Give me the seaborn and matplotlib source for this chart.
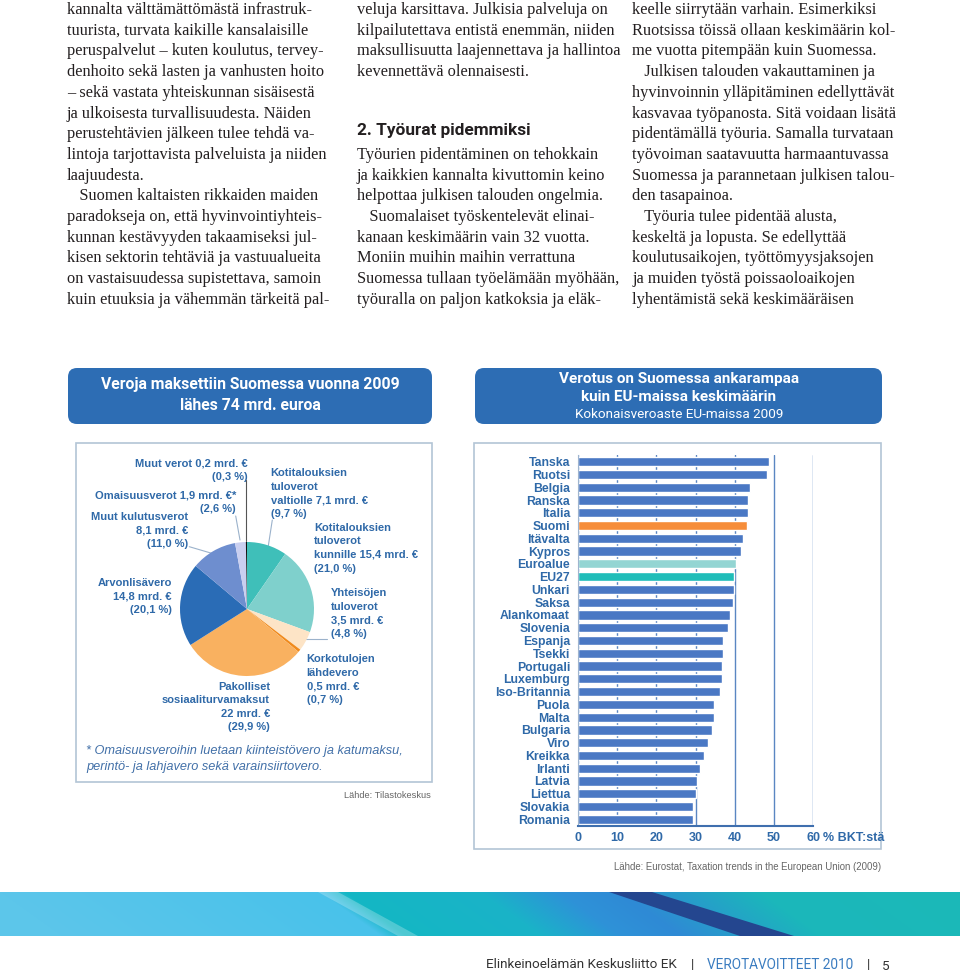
import numpy as np
import pandas as pd
import matplotlib
matplotlib.use("Agg")
import matplotlib.pyplot as plt
import seaborn as sns
from matplotlib.patches import FancyBboxPatch, Rectangle, Polygon
from matplotlib.colors import to_rgb

# =========================
# DATA
# =========================

# verotulot 2009, mrd. euroa (myötäpäivään klo 12:sta alkaen)
pie_values = [7.1, 15.4, 3.5, 0.5, 22.0, 14.8, 8.1, 1.9, 0.2]
pie_colors = ["#3fbfb9", "#7fd0cc", "#fde4c6", "#f08a1c", "#f9b160",
              "#2a6cb6", "#6e8ecf", "#c9cff0", "#111111"]
pie_labels = [
    ["Kotitalouksien", "tuloverot", "valtiolle 7,1 mrd. €", "(9,7 %)"],
    ["Kotitalouksien", "tuloverot", "kunnille 15,4 mrd. €", "(21,0 %)"],
    ["Yhteisöjen", "tuloverot", "3,5 mrd. €", "(4,8 %)"],
    ["Korkotulojen", "lähdevero", "0,5 mrd. €", "(0,7 %)"],
    ["Pakolliset", "sosiaaliturvamaksut", "22 mrd. €", "(29,9 %)"],
    ["Arvonlisävero", "14,8 mrd. €", "(20,1 %)"],
    ["Muut kulutusverot", "8,1 mrd. €", "(11,0 %)"],
    ["Omaisuusverot 1,9 mrd. €*", "(2,6 %)"],
    ["Muut verot 0,2 mrd. €", "(0,3 %)"],
]

# kokonaisveroaste, % BKT:stä
countries = ["Tanska", "Ruotsi", "Belgia", "Ranska", "Italia", "Suomi",
             "Itävalta", "Kypros", "Euroalue", "EU27", "Unkari", "Saksa",
             "Alankomaat", "Slovenia", "Espanja", "Tsekki", "Portugali",
             "Luxemburg", "Iso-Britannia", "Puola", "Malta", "Bulgaria",
             "Viro", "Kreikka", "Irlanti", "Latvia", "Liettua", "Slovakia",
             "Romania"]
rates = [48.7, 48.3, 44.0, 43.3, 43.3, 43.0, 42.1, 41.6, 40.4, 39.9, 39.9,
         39.5, 38.9, 38.3, 37.1, 37.0, 36.8, 36.7, 36.3, 34.8, 34.7, 34.2,
         33.1, 32.1, 31.1, 30.4, 30.0, 29.4, 29.4]
x_ticks = [0, 10, 20, 30, 40, 50, 60]

col1 = [
    "kannalta välttämättömästä infrastruk-",
    "tuurista, turvata kaikille kansalaisille",
    "peruspalvelut – kuten koulutus, tervey-",
    "denhoito sekä lasten ja vanhusten hoito",
    "– sekä vastata yhteiskunnan sisäisestä",
    "ja ulkoisesta turvallisuudesta. Näiden",
    "perustehtävien jälkeen tulee tehdä va-",
    "lintoja tarjottavista palveluista ja niiden",
    "laajuudesta.",
    "   Suomen kaltaisten rikkaiden maiden",
    "paradokseja on, että hyvinvointiyhteis-",
    "kunnan kestävyyden takaamiseksi jul-",
    "kisen sektorin tehtäviä ja vastuualueita",
    "on vastaisuudessa supistettava, samoin",
    "kuin etuuksia ja vähemmän tärkeitä pal-",
]
col2 = [
    "veluja karsittava. Julkisia palveluja on",
    "kilpailutettava entistä enemmän, niiden",
    "maksullisuutta laajennettava ja hallintoa",
    "kevennettävä olennaisesti.",
    "",
    "",
    "",
    "Työurien pidentäminen on tehokkain",
    "ja kaikkien kannalta kivuttomin keino",
    "helpottaa julkisen talouden ongelmia.",
    "   Suomalaiset työskentelevät elinai-",
    "kanaan keskimäärin vain 32 vuotta.",
    "Moniin muihin maihin verrattuna",
    "Suomessa tullaan työelämään myöhään,",
    "työuralla on paljon katkoksia ja eläk-",
]
col3 = [
    "keelle siirrytään varhain. Esimerkiksi",
    "Ruotsissa töissä ollaan keskimäärin kol-",
    "me vuotta pitempään kuin Suomessa.",
    "   Julkisen talouden vakauttaminen ja",
    "hyvinvoinnin ylläpitäminen edellyttävät",
    "kasvavaa työpanosta. Sitä voidaan lisätä",
    "pidentämällä työuria. Samalla turvataan",
    "työvoiman saatavuutta harmaantuvassa",
    "Suomessa ja parannetaan julkisen talou-",
    "den tasapainoa.",
    "   Työuria tulee pidentää alusta,",
    "keskeltä ja lopusta. Se edellyttää",
    "koulutusaikojen, työttömyysjaksojen",
    "ja muiden työstä poissaoloaikojen",
    "lyhentämistä sekä keskimääräisen",
]

# =========================
# STYLE
# =========================

sns.set_style("white")
plt.rcParams["font.family"] = ["Liberation Sans", "DejaVu Sans"]

BLUE_TXT = "#2f69a8"
BODY = "#231f20"
W, H = 960, 976

fig = plt.figure(figsize=(9.6, 9.76), dpi=100)

# whole page in pixel coordinates
page = fig.add_axes([0, 0, 1, 1], zorder=0)
page.axis("off")

# footer stripe
stops_x = [0, 320, 345, 480, 560, 620, 760, 960]
stops_c = ["#5cc6ea", "#49c2ea", "#14b7c4", "#1ab3c8", "#2e92d8",
           "#2f8ad5", "#1bb7bb", "#1cb9b8"]
rgb = np.array([to_rgb(c) for c in stops_c])
img = np.zeros((44, W, 3))
for r in range(44):
    xs = np.arange(W) - r * 1.4
    for ch in range(3):
        img[r, :, ch] = np.interp(xs, stops_x, rgb[:, ch])
page.imshow(img, extent=(0, W, 936, 892), aspect="auto", zorder=0)
page.add_patch(Polygon([(318, 892), (338, 892), (418, 936), (398, 936)],
                       closed=True, fc="white", alpha=0.25, ec="none"))
page.add_patch(Polygon([(609, 892), (652, 892), (794, 936), (740, 936)],
                       closed=True, fc="#24468f", ec="none"))
page.set_xlim(0, W)
page.set_ylim(H, 0)

# =========================
# BODY TEXT
# =========================

for col_x, lines in [(67, col1), (357, col2), (632, col3)]:
    for i, line in enumerate(lines):
        if line:
            page.text(col_x, 10 + 20.7 * i, line, family="Liberation Serif",
                      fontsize=11.8, color=BODY, va="center", ha="left")

page.text(357, 131, "2. Työurat pidemmiksi", family="Roboto",
          fontweight="bold", fontsize=12.4, color=BODY, va="center")

# =========================
# TITLE BOXES
# =========================

for x0, w in [(68, 364), (475, 407)]:
    page.add_patch(FancyBboxPatch((x0, 368), w, 56,
                                  boxstyle="round,pad=0,rounding_size=9",
                                  fc="#2d6db4", ec="none"))

page.text(250, 384, "Veroja maksettiin Suomessa vuonna 2009", family="Roboto",
          fontweight="bold", fontsize=11.3, color="white", ha="center", va="center")
page.text(250, 405, "lähes 74 mrd. euroa", family="Roboto",
          fontweight="bold", fontsize=11.3, color="white", ha="center", va="center")
page.text(679, 379, "Verotus on Suomessa ankarampaa", family="Roboto",
          fontweight="bold", fontsize=11, color="white", ha="center", va="center")
page.text(679, 397, "kuin EU-maissa keskimäärin", family="Roboto",
          fontweight="bold", fontsize=11, color="white", ha="center", va="center")
page.text(679, 415, "Kokonaisveroaste EU-maissa 2009", family="Roboto",
          fontsize=9.7, color="white", ha="center", va="center")

# chart frames
page.add_patch(Rectangle((76, 443), 355.7, 338.7, fill=False, ec="#b3c5d5", lw=1.2))
page.add_patch(Rectangle((474, 443), 407, 406, fill=False, ec="#b3c5d5", lw=1.2))

# =========================
# PIE
# =========================

cx, cy, rad, half = 247, 609, 67, 70
ax_pie = fig.add_axes([(cx - half) / W, 1 - (cy + half) / H, 2 * half / W, 2 * half / H],
                      zorder=2)
ax_pie.pie(pie_values, colors=pie_colors, startangle=90, counterclock=False,
           wedgeprops={"linewidth": 0})
ax_pie.set_xlim(-half / rad, half / rad)
ax_pie.set_ylim(-half / rad, half / rad)
ax_pie.patch.set_alpha(0)

label_pos = [(270.7, 473.3, "left"), (314.3, 527.7, "left"), (330.7, 593.3, "left"),
             (306.7, 659.0, "left"), (270.0, 686.7, "right"), (172.0, 583.0, "right"),
             (188.0, 517.0, "right"), (236.0, 495.0, "right"), (248.0, 463.0, "right")]
for lines, (lx, ly, ha) in zip(pie_labels, label_pos):
    for j, line in enumerate(lines):
        page.text(lx, ly + 13.6 * j, line, fontsize=8, fontweight="bold",
                  color=BLUE_TXT, ha=ha, va="center")

leaders = [[(245.7, 480), (245.7, 541)], [(235.7, 516), (240, 540)],
           [(189.3, 546.7), (211.7, 553.3)], [(272.3, 520), (268.3, 546)],
           [(326.7, 639.3), (305, 639.3)]]
for k, seg in enumerate(leaders):
    (x0, y0), (x1, y1) = seg
    page.plot([x0, x1], [y0, y1], color="#555555" if k == 0 else "#9bb2cb",
              lw=0.8, zorder=3)

page.text(86, 751, "* Omaisuusveroihin luetaan kiinteistövero ja katumaksu,",
          fontsize=9.2, style="italic", color="#4270a8", va="center")
page.text(86, 767, "perintö- ja lahjavero sekä varainsiirtovero.",
          fontsize=9.2, style="italic", color="#4270a8", va="center")
page.text(431, 795, "Lähde: Tilastokeskus", fontsize=6.7, color="#666666",
          ha="right", va="center")

# =========================
# BAR CHART
# =========================

bar_colors = []
for c in countries:
    if c == "Suomi":
        bar_colors.append("#f68d3a")
    elif c == "Euroalue":
        bar_colors.append("#93d5d3")
    elif c == "EU27":
        bar_colors.append("#1fbdb9")
    else:
        bar_colors.append("#4a78c4")

df = pd.DataFrame({"maa": countries, "veroaste": rates})

x_left, x_right, y_top, y_bot = 577.7, 813.3, 455.3, 825.7
ax_bar = fig.add_axes([x_left / W, 1 - y_bot / H, (x_right - x_left) / W, (y_bot - y_top) / H],
                      zorder=2)
sns.barplot(data=df, x="veroaste", y="maa", hue="maa", palette=bar_colors,
            legend=False, width=0.72, saturation=1, ax=ax_bar)
ax_bar.patch.set_alpha(0)
ax_bar.set_xlim(0, 60)
ax_bar.set_ylim(len(countries) - 0.5, -0.5)
ax_bar.set_xticks(x_ticks)
ax_bar.set_xticklabels([str(t) for t in x_ticks])
ax_bar.set_xlabel("")
ax_bar.set_ylabel("")
ax_bar.xaxis.grid(True, color="#5a86c2", lw=1)
ax_bar.yaxis.grid(False)
ax_bar.set_axisbelow(True)
for s in ["top", "right"]:
    ax_bar.spines[s].set_visible(False)
ax_bar.spines["bottom"].set_color("#3f6fae")
ax_bar.spines["bottom"].set_linewidth(1.5)
ax_bar.spines["left"].set_color("#9fb5cf")
ax_bar.spines["left"].set_linewidth(0.8)
ax_bar.tick_params(axis="both", length=0, labelcolor=BLUE_TXT)
ax_bar.tick_params(axis="y", pad=5.5, labelsize=8.8)
ax_bar.tick_params(axis="x", pad=4.5, labelsize=9)
for lbl in ax_bar.get_xticklabels() + ax_bar.get_yticklabels():
    lbl.set_fontweight("bold")

page.text(823, 838, "% BKT:stä", fontsize=9, fontweight="bold", color=BLUE_TXT,
          ha="left", va="center")
page.text(881, 867, "Lähde: Eurostat, Taxation trends in the European Union (2009)",
          fontsize=6.9, color="#666666", ha="right", va="center")

# =========================
# FOOTER
# =========================

page.text(486, 965, "Elinkeinoelämän Keskusliitto EK", family="Roboto",
          fontsize=9.7, color="#333333", va="center")
page.text(692, 965, "|", family="Roboto", fontsize=9.7, color="#333333",
          ha="center", va="center")
page.text(707, 965, "VEROTAVOITTEET 2010", family="Roboto", fontsize=9.8,
          color="#3a7cc0", va="center")
page.text(868, 965, "|", family="Roboto", fontsize=9.7, color="#333333",
          ha="center", va="center")
page.text(882, 966, "5", family="Roboto", fontsize=9.7, color="#333333", va="center")

fig.savefig("out.png", dpi=100)
